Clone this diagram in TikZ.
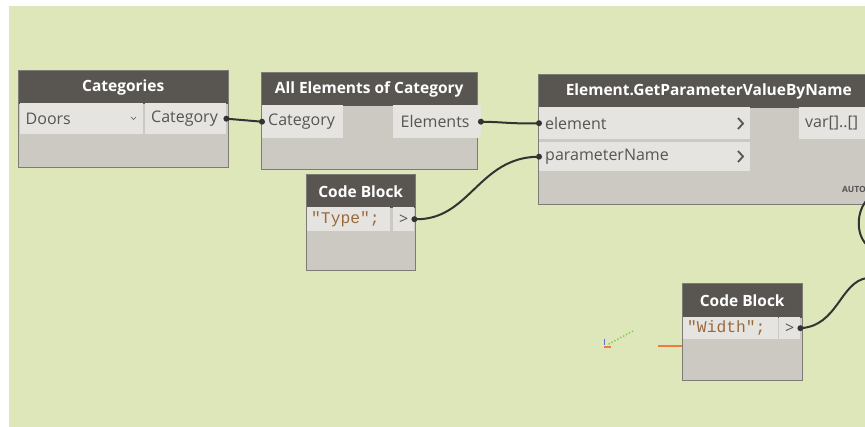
\documentclass[tikz,border=0pt]{standalone}
\usepackage{fontspec}
\setmainfont{Open Sans}
\newfontfamily\monof{Liberation Mono}
\definecolor{bggreen}{HTML}{DDE7B9}
\definecolor{hdrgray}{HTML}{595652}
\definecolor{bodygray}{HTML}{CCC8C2}
\definecolor{portgray}{HTML}{E6E4E0}
\definecolor{edgegray}{HTML}{7E7A74}
\definecolor{porttext}{HTML}{555555}
\definecolor{codebrown}{HTML}{9A6A3C}
\definecolor{wiredark}{HTML}{333333}
\definecolor{axorange}{HTML}{F07A40}
\definecolor{axgreen}{HTML}{7CC34A}
\definecolor{axblue}{HTML}{5A6FD0}
\tikzset{
  nodebody/.style={draw=edgegray, line width=1pt, fill=bodygray, anchor=north west, inner sep=0pt},
  header/.style={fill=hdrgray, anchor=north west, inner sep=0pt, text=white, font=\fontsize{15.5}{17}\selectfont\bfseries},
  port/.style={fill=portgray, anchor=north west, inner sep=0pt, text=porttext, font=\fontsize{16}{18}\selectfont},
  lport/.style={port, align=left, inner xsep=6pt},
  code/.style={fill=portgray, anchor=north west, inner sep=0pt, inner xsep=4pt, align=left, text=codebrown, font=\fontsize{16.3}{18}\selectfont\monof},
  wire/.style={draw=wiredark, line width=2pt},
  pin/.style={fill=wiredark},
  chev/.style={draw=hdrgray, line width=1.8pt},
}
\begin{document}
\begin{tikzpicture}[x=1pt, y=-1pt]
\useasboundingbox (0,0) rectangle (865,427);
\fill[white] (0,0) rectangle (865,427);
\fill[bggreen] (9,6) rectangle (865,427);

% Categories
\node[nodebody, minimum width=210pt, minimum height=97pt] (cat) at (18,70) {};
\node[header, minimum width=209pt, minimum height=33pt] (cath) at (18.5,70.5) {Categories};
\node[lport, minimum width=123pt, minimum height=31pt, text width=111pt, inner xsep=3pt] (catdd) at (19.5,103) {Doors};
\node[lport, minimum width=81pt, minimum height=31pt, text width=69pt] (catout) at (145,103) {Category};
\draw[porttext, line width=0.6pt] (131,117) -- (133.5,119.5) -- (136,117);

% All Elements of Category
\node[nodebody, minimum width=216pt, minimum height=97pt] (ae) at (261,72) {};
\node[header, minimum width=215pt, minimum height=33pt] (aeh) at (261.5,72.5) {All Elements of Category};
\node[lport, minimum width=81pt, minimum height=33pt, text width=69pt, inner xsep=5pt] (aein) at (262,105) {Category};
\node[lport, minimum width=84pt, minimum height=33pt, text width=72pt, inner xsep=8pt] (aeout) at (392.5,105) {Elements};

% Element.GetParameterValueByName
\node[nodebody, minimum width=340pt, minimum height=130pt] (gp) at (538,74) {};
\node[header, minimum width=340pt, minimum height=33pt] (gph) at (538.5,74.5) {Element.GetParameterValueByName};
\node[lport, minimum width=211pt, minimum height=32pt, text width=199pt] (gpel) at (539,107) {element};
\node[lport, minimum width=211pt, minimum height=29pt, text width=199pt] (gppn) at (539,142) {parameterName};
\node[lport, minimum width=70pt, minimum height=32pt, text width=58pt] (gpout) at (799,107) {var[]..[]};
\node[anchor=east, inner sep=0pt, text=porttext, font=\fontsize{8.5}{9}\selectfont\bfseries] (gpauto) at (866,189) {AUTO};
\draw[chev] (738,118) -- (743,123.5) -- (738,129);
\draw[chev] (738,151) -- (743,156.5) -- (738,162);

% Code Block Type
\node[nodebody, minimum width=109pt, minimum height=96pt] (cb1) at (306,174) {};
\node[header, minimum width=108pt, minimum height=33pt] (cb1h) at (306.5,174.5) {Code Block};
\node[code, minimum width=83pt, minimum height=24pt, text width=75pt] (cb1c) at (307,207) {"Type";};
\node[port, minimum width=21pt, minimum height=24pt] (cb1out) at (393,207) {>};

% Code Block Width
\node[nodebody, minimum width=120pt, minimum height=97pt] (cb2) at (682,283) {};
\node[header, minimum width=119pt, minimum height=34pt] (cb2h) at (682.5,283.5) {Code Block};
\node[code, minimum width=95pt, minimum height=22pt, text width=87pt] (cb2c) at (683,317) {"Width";};
\node[port, minimum width=21pt, minimum height=22pt] (cb2out) at (779,317) {>};

% wires
\coordinate (offa) at (867,278);
\coordinate (offb) at (867,200);
\coordinate (offc) at (867,245);
\draw[wire] (catout.east) -- (aein.west);
\draw[wire] (aeout.east) .. controls (505,122) and (510,124) .. (gpel.west);
\draw[wire] (cb1out.east) .. controls (470,221) and (478,157) .. (gppn.west);
\draw[wire] (cb2out.east) .. controls (838,326) and (840,282) .. (offa);
\draw[wire] (offb) .. controls (856,212) and (856,235) .. (offc);
\foreach \p in {catout.east, aein.west, aeout.east, gpel.west, gppn.west, cb1out.east, cb2out.east}
  \fill[pin] (\p) circle (3pt);

% axis gizmo
\draw[axgreen, line width=1.3pt, dotted] (633,331) -- (607,345);
\draw[axblue, line width=1pt] (604,339) -- (604,345);
\draw[axorange, line width=1.3pt] (604,347) -- (611,347);
\draw[axorange, line width=1.3pt] (658,346) -- (682,346);
\end{tikzpicture}
\end{document}
